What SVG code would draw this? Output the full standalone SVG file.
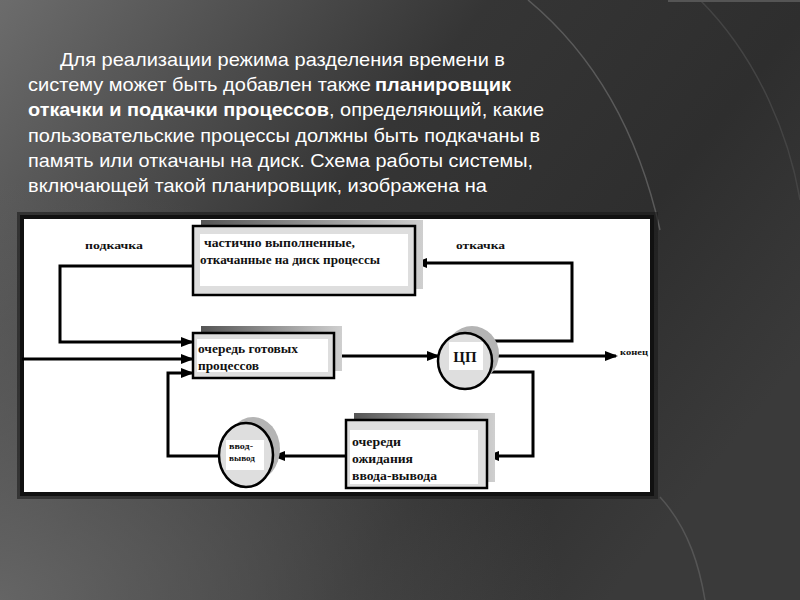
<svg xmlns="http://www.w3.org/2000/svg" width="800" height="600" viewBox="0 0 800 600">
<defs>
<linearGradient id="bg" x1="0" y1="0" x2="1" y2="0.6">
<stop offset="0" stop-color="#6c6c6c"/>
<stop offset="0.45" stop-color="#353535"/>
<stop offset="0.75" stop-color="#2e2e2e"/>
<stop offset="1" stop-color="#3a3a3a"/>
</linearGradient>
<radialGradient id="bl" cx="0" cy="1" r="0.7">
<stop offset="0" stop-color="#6a6a6a" stop-opacity="0.9"/>
<stop offset="1" stop-color="#6a6a6a" stop-opacity="0"/>
</radialGradient>
<linearGradient id="sh" x1="0" y1="0" x2="1" y2="0">
<stop offset="0" stop-color="#555"/>
<stop offset="1" stop-color="#cfcfcf"/>
</linearGradient>
<marker id="ar" markerUnits="userSpaceOnUse" markerWidth="14" markerHeight="12" refX="11" refY="5" orient="auto">
<path d="M0,0 L13,5 L0,10 z" fill="#000"/>
</marker>
<style>
.t{fill:#fff;font-family:"Liberation Sans Narrow","Liberation Sans",Arial,sans-serif;font-size:19px}
.b{font-weight:bold}
.d{fill:#111;font-family:"Liberation Serif","Times New Roman",serif;font-weight:bold}
.c{fill:none;stroke:#000;stroke-width:3}
.box{fill:#dedede;stroke:#000;stroke-width:2.5}
.in{fill:#fff}
</style>
</defs>
<rect width="800" height="600" fill="url(#bg)"/>
<rect width="800" height="600" fill="url(#bl)"/>
<path d="M528,0 C600,60 640,140 660,230" fill="none" stroke="#5a5a5a" stroke-width="1.5"/>
<path d="M660,497 C690,530 700,570 705,600" fill="none" stroke="#555" stroke-width="1.5"/>
<path d="M700,0 C760,60 790,140 800,200" fill="none" stroke="#444" stroke-width="1.5"/>
<line x1="668" y1="1" x2="800" y2="1" stroke="#555" stroke-width="2"/>

<g id="paragraph">
<text class="t" x="60" y="66" textLength="445" lengthAdjust="spacingAndGlyphs">Для реализации режима разделения времени в</text>
<text class="t" x="28" y="91" textLength="343" lengthAdjust="spacingAndGlyphs">систему может быть добавлен также</text>
<text class="t b" x="375" y="91" textLength="136" lengthAdjust="spacingAndGlyphs">планировщик</text>
<text class="t b" x="28" y="116" textLength="301" lengthAdjust="spacingAndGlyphs">откачки и подкачки процессов</text>
<text class="t" x="329" y="116" textLength="215" lengthAdjust="spacingAndGlyphs">, определяющий, какие</text>
<text class="t" x="28" y="142" textLength="512" lengthAdjust="spacingAndGlyphs">пользовательские процессы должны быть подкачаны в</text>
<text class="t" x="28" y="167" textLength="505" lengthAdjust="spacingAndGlyphs">память или откачаны на диск. Схема работы системы,</text>
<text class="t" x="28" y="192" textLength="459" lengthAdjust="spacingAndGlyphs">включающей такой планировщик, изображена на</text>
</g>

<rect x="17" y="212" width="641" height="287" fill="#1a1a1a" opacity="0.6"/>
<rect x="22" y="217" width="630" height="277" fill="#fff" stroke="#111" stroke-width="4"/>

<text class="d" x="85" y="249" font-size="11" textLength="58" lengthAdjust="spacingAndGlyphs">подкачка</text>
<text class="d" x="456" y="249" font-size="11" textLength="49" lengthAdjust="spacingAndGlyphs">откачка</text>
<text class="d" x="620" y="355" font-size="8.5" textLength="28" lengthAdjust="spacingAndGlyphs">конец</text>

<g id="connectors">
<path class="c" d="M193,266 H60 V342 H192" marker-end="url(#ar)"/>
<path class="c" d="M22,359 H192" marker-end="url(#ar)"/>
<path class="c" d="M220,456 H168 V373 H192" marker-end="url(#ar)"/>
<path class="c" d="M334,356 H438" marker-end="url(#ar)"/>
<path class="c" d="M492,356 H616" marker-end="url(#ar)"/>
<path class="c" d="M484,341 H572 V263 H416" marker-end="url(#ar)"/>
<path class="c" d="M489,372 H533 V456 H488" marker-end="url(#ar)"/>
<path class="c" d="M346,456 H274" marker-end="url(#ar)"/>
</g>

<g id="swapped">
<rect x="201" y="220" width="222" height="69" fill="url(#sh)"/>
<rect class="box" x="193" y="226" width="222" height="69"/>
<rect class="in" x="200" y="234" width="208" height="52"/>
<text class="d" x="204" y="247" font-size="11.5" textLength="151" lengthAdjust="spacingAndGlyphs">частично выполненные,</text>
<text class="d" x="200" y="264" font-size="11.5" textLength="180" lengthAdjust="spacingAndGlyphs">откачанные на диск процессы</text>
</g>

<g id="ready">
<rect x="201" y="326" width="141" height="45" fill="url(#sh)"/>
<rect class="box" x="193" y="333" width="141" height="45"/>
<rect class="in" x="197" y="339" width="131" height="33"/>
<text class="d" x="198" y="353" font-size="12" textLength="100" lengthAdjust="spacingAndGlyphs">очередь готовых</text>
<text class="d" x="198" y="370" font-size="12" textLength="61" lengthAdjust="spacingAndGlyphs">процессов</text>
</g>

<g id="cpu">
<ellipse cx="472" cy="354" rx="27" ry="28" fill="#b4b4b4"/>
<ellipse cx="465" cy="361" rx="27" ry="28" fill="#dedede" stroke="#000" stroke-width="2.5"/>
<rect class="in" x="449" y="342" width="34" height="28"/>
<text class="d" x="465" y="362" font-size="15" text-anchor="middle">ЦП</text>
</g>

<g id="ioqueue">
<rect x="354" y="413" width="141" height="69" fill="url(#sh)"/>
<rect class="box" x="346" y="420" width="141" height="68"/>
<rect class="in" x="350" y="430" width="128" height="54"/>
<text class="d" x="352" y="446" font-size="12" textLength="49" lengthAdjust="spacingAndGlyphs">очереди</text>
<text class="d" x="352" y="463" font-size="12" textLength="61" lengthAdjust="spacingAndGlyphs">ожидания</text>
<text class="d" x="352" y="480" font-size="12" textLength="85" lengthAdjust="spacingAndGlyphs">ввода-вывода</text>
</g>

<g id="io">
<ellipse cx="253" cy="449" rx="27" ry="32" fill="#b4b4b4"/>
<ellipse cx="246" cy="455" rx="27" ry="32" fill="#dedede" stroke="#000" stroke-width="2.5"/>
<rect class="in" x="226" y="440" width="38" height="30"/>
<text class="d" x="229" y="449" font-size="8" textLength="24" lengthAdjust="spacingAndGlyphs">ввод-</text>
<text class="d" x="229" y="461" font-size="8" textLength="26" lengthAdjust="spacingAndGlyphs">вывод</text>
</g>
</svg>
